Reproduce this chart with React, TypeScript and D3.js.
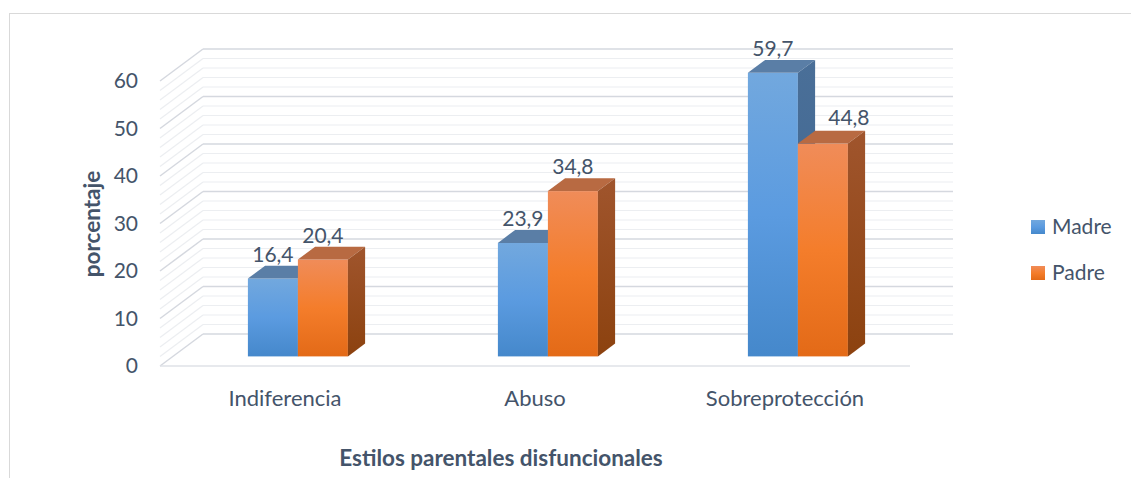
import React from 'react';
import * as d3 from 'd3';

const categories = ['Indiferencia', 'Abuso', 'Sobreprotección'];
const seriesNames = ['Madre', 'Padre'];
const madre = [16.4, 23.9, 59.7];
const padre = [20.4, 34.8, 44.8];
const yTicks = [0, 10, 20, 30, 40, 50, 60];

const W = 1131;
const H = 478;
const textColor = '#44546a';
const font = 'Lato, "Open Sans", sans-serif';

// oblique depth of the 3D box
const DX = 43;
const DY = -32;
const F0 = 0.3;
const F1 = 0.7;

const App: React.FC = () => {
  const y = d3.scaleLinear().domain([0, 60]).range([366, 81]);
  const x = d3.scaleBand<string>().domain(categories).range([160, 910]);
  const xs = d3.scaleBand<string>().domain(seriesNames).range([0, x.bandwidth()])
    .paddingInner(0).paddingOuter(1.5);

  const minor = d3.range(0, 61, 2);
  const xL = x.range()[0];
  const xR = x.range()[1];

  const colors: Record<string, { grad: string; top: string; side: string }> = {
    Madre: { grad: 'gBlue', top: '#5a7ea6', side: 'gBlueSide' },
    Padre: { grad: 'gOrange', top: '#b86a42', side: 'gOrangeSide' },
  };

  const bars: { cat: string; s: string; v: number; hidden: boolean }[] = [];
  categories.forEach((c, i) => {
    bars.push({ cat: c, s: 'Madre', v: madre[i], hidden: false });
    // label of the orange bar gets pushed right when the blue one is taller
    bars.push({ cat: c, s: 'Padre', v: padre[i], hidden: madre[i] > padre[i] });
  });

  const pt = (px: number, v: number, f: number) => `${px + DX * f},${y(v) + DY * f}`;

  return (
    <svg width={W} height={H} style={{ position: 'absolute', left: 0, top: 0, background: '#fff' }}>
      <defs>
        <linearGradient id="gBlue" x1="0" y1="0" x2="0" y2="1">
          <stop offset="0" stopColor="#72a8de" />
          <stop offset="0.5" stopColor="#5b9be0" />
          <stop offset="1" stopColor="#4588cb" />
        </linearGradient>
        <linearGradient id="gOrange" x1="0" y1="0" x2="0" y2="1">
          <stop offset="0" stopColor="#f08c59" />
          <stop offset="0.5" stopColor="#f47d2b" />
          <stop offset="1" stopColor="#e36a17" />
        </linearGradient>
        <linearGradient id="gBlueSide" x1="0" y1="0" x2="0" y2="1">
          <stop offset="0" stopColor="#4a6f98" />
          <stop offset="1" stopColor="#3d6590" />
        </linearGradient>
        <linearGradient id="gOrangeSide" x1="0" y1="0" x2="0" y2="1">
          <stop offset="0" stopColor="#a0552d" />
          <stop offset="1" stopColor="#8c420f" />
        </linearGradient>
      </defs>

      <rect x={9.5} y={13.5} width={W} height={H} fill="none" stroke="#d9d9d9" />

      {/* walls and gridlines */}
      {minor.map((v) => {
        const major = v % 10 === 0;
        const c = major ? '#d5d8df' : '#eceef1';
        return (
          <g key={v} stroke={c} strokeWidth={major ? 1.5 : 1.2} fill="none">
            <line x1={xL} y1={y(v)} x2={xL + DX} y2={y(v) + DY} />
            <line x1={xL + DX} y1={y(v) + DY} x2={xR + DX} y2={y(v) + DY} />
          </g>
        );
      })}
      <line x1={xL} y1={y(0)} x2={xR} y2={y(0)} stroke="#dfe2e7" strokeWidth={1.5} />

      {/* bars */}
      {bars.map((b) => {
        const x0 = (x(b.cat) as number) + (xs(b.s) as number);
        const x1 = x0 + xs.bandwidth();
        const col = colors[b.s];
        const ft = y(b.v) + DY * F0;
        const fb = y(0) + DY * F0;
        return (
          <g key={b.cat + b.s}>
            <rect x={x0 + DX * F0} y={ft} width={x1 - x0} height={fb - ft} fill={`url(#${col.grad})`} />
            <polygon
              points={[pt(x0, b.v, F0), pt(x1, b.v, F0), pt(x1, b.v, F1), pt(x0, b.v, F1)].join(' ')}
              fill={col.top}
            />
            <polygon
              points={[pt(x1, 0, F0), pt(x1, b.v, F0), pt(x1, b.v, F1), pt(x1, 0, F1)].join(' ')}
              fill={`url(#${col.side})`}
            />
          </g>
        );
      })}

      {/* value labels */}
      {bars.map((b) => {
        const x0 = (x(b.cat) as number) + (xs(b.s) as number) + DX * F0;
        const cx = b.hidden ? x0 + xs.bandwidth() + 1 : x0 + xs.bandwidth() / 2;
        return (
          <text
            key={'l' + b.cat + b.s}
            x={cx}
            y={y(b.v) + DY * F1 - (b.hidden ? 6 : 4)}
            textAnchor="middle"
            fontFamily={font}
            fontSize={21}
            fill={textColor}
          >
            {b.v.toFixed(1).replace('.', ',')}
          </text>
        );
      })}

      {/* y axis */}
      {yTicks.map((t) => (
        <text key={t} x={138} y={y(t)} dy="0.35em" textAnchor="end" fontFamily={font} fontSize={21} fill={textColor}>
          {t}
        </text>
      ))}
      <text
        transform="translate(100,224) rotate(-90)"
        textAnchor="middle"
        fontFamily={font}
        fontSize={22.5}
        fontWeight="bold"
        fill={textColor}
      >
        porcentaje
      </text>

      {/* x axis */}
      {categories.map((c) => (
        <text
          key={c}
          x={(x(c) as number) + x.bandwidth() / 2}
          y={406}
          textAnchor="middle"
          fontFamily={font}
          fontSize={22}
          fill={textColor}
        >
          {c}
        </text>
      ))}
      <text x={501} y={466} textAnchor="middle" fontFamily={font} fontSize={22.5} fontWeight="bold" fill={textColor}>
        Estilos parentales disfuncionales
      </text>

      {/* legend */}
      {seriesNames.map((s, i) => (
        <g key={s} transform={`translate(1031,${220 + i * 46})`}>
          <rect width={14} height={14} fill={`url(#${colors[s].grad})`} />
          <text x={21} y={7} dy="0.35em" fontFamily={font} fontSize={21} fill={textColor}>
            {s}
          </text>
        </g>
      ))}
    </svg>
  );
};

export default App;
